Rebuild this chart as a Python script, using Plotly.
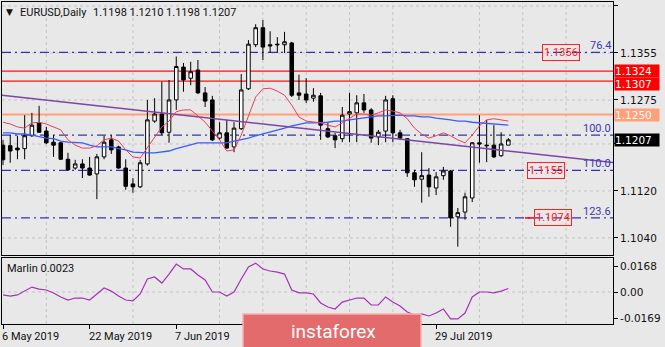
import plotly.graph_objects as go
import pandas as pd

# ---------------- data ----------------
dates = pd.bdate_range("2019-05-06", "2019-08-12")
bar_idx = list(range(len(dates)))

opens = [1.1198, 1.1197, 1.1193, 1.1192, 1.1214, 1.1236, 1.1222, 1.1203, 1.1202, 1.1174,
         1.1159, 1.1166, 1.1159, 1.1149, 1.1178, 1.1207, 1.1195, 1.1159, 1.1132, 1.1127,
         1.1166, 1.1239, 1.1251, 1.1220, 1.1275, 1.1331, 1.1312, 1.1326, 1.1287, 1.1275,
         1.1210, 1.1219, 1.1195, 1.1226, 1.1294, 1.1369, 1.1398, 1.1369, 1.1370, 1.1369,
         1.1372, 1.1287, 1.1285, 1.1278, 1.1282, 1.1226, 1.1214, 1.1209, 1.1251, 1.1253,
         1.1270, 1.1258, 1.1212, 1.1222, 1.1277, 1.1219, 1.1209, 1.1151, 1.1140, 1.1147,
         1.1125, 1.1146, 1.1154, 1.1076, 1.1084, 1.1108, 1.1202, 1.1198, 1.1198, 1.1180,
         1.1198]
highs = [1.1207, 1.1215, 1.1214, 1.1249, 1.1253, 1.1265, 1.1229, 1.1215, 1.1203, 1.1185,
         1.1173, 1.1174, 1.1178, 1.1183, 1.1214, 1.1215, 1.1197, 1.1174, 1.1142, 1.1173,
         1.1275, 1.1278, 1.1306, 1.1309, 1.1349, 1.1338, 1.1340, 1.1343, 1.1297, 1.1282,
         1.1237, 1.1241, 1.1237, 1.1319, 1.1377, 1.1404, 1.1411, 1.1392, 1.1382, 1.1391,
         1.1374, 1.1318, 1.1312, 1.1295, 1.1287, 1.1236, 1.1219, 1.1263, 1.1287, 1.1283,
         1.1285, 1.1261, 1.1224, 1.1282, 1.1283, 1.1224, 1.1210, 1.1156, 1.1186, 1.1159,
         1.1152, 1.1161, 1.1156, 1.1091, 1.1117, 1.1203, 1.1249, 1.1241, 1.1232, 1.1220,
         1.1210]
lows = [1.1164, 1.1168, 1.1174, 1.1174, 1.1212, 1.1219, 1.1200, 1.1178, 1.1173, 1.1154,
        1.1156, 1.1142, 1.1146, 1.1106, 1.1174, 1.1183, 1.1158, 1.1122, 1.1117, 1.1125,
        1.1163, 1.1236, 1.1215, 1.1202, 1.1258, 1.1289, 1.1300, 1.1285, 1.1263, 1.1205,
        1.1207, 1.1192, 1.1186, 1.1224, 1.1292, 1.1365, 1.1343, 1.1355, 1.1355, 1.1355,
        1.1280, 1.1275, 1.1270, 1.1272, 1.1207, 1.1210, 1.1193, 1.1203, 1.1203, 1.1203,
        1.1253, 1.1202, 1.1198, 1.1203, 1.1203, 1.1207, 1.1144, 1.1127, 1.1100, 1.1110,
        1.1113, 1.1139, 1.1059, 1.1025, 1.1071, 1.1101, 1.1168, 1.1169, 1.1176, 1.1178,
        1.1198]
closes = [1.1173, 1.1188, 1.1190, 1.1214, 1.1232, 1.1220, 1.1202, 1.1198, 1.1174, 1.1156,
          1.1166, 1.1159, 1.1147, 1.1178, 1.1203, 1.1190, 1.1159, 1.1128, 1.1127, 1.1168,
          1.1241, 1.1251, 1.1219, 1.1275, 1.1332, 1.1309, 1.1323, 1.1287, 1.1273, 1.1207,
          1.1219, 1.1193, 1.1227, 1.1292, 1.1370, 1.1398, 1.1365, 1.1367, 1.1369, 1.1374,
          1.1283, 1.1283, 1.1275, 1.1283, 1.1232, 1.1212, 1.1207, 1.1249, 1.1255, 1.1270,
          1.1258, 1.1210, 1.1220, 1.1275, 1.1219, 1.1210, 1.1151, 1.1139, 1.1146, 1.1127,
          1.1144, 1.1154, 1.1074, 1.1083, 1.1110, 1.1202, 1.1200, 1.1197, 1.1178, 1.1200,
          1.1207]

ma_fast = [1.1237, 1.1234, 1.1229, 1.1227, 1.1236, 1.1237, 1.1234, 1.1229, 1.1224, 1.1207,
           1.1198, 1.1193, 1.1193, 1.1197, 1.1207, 1.1210, 1.1205, 1.1190, 1.1178, 1.1176,
           1.1193, 1.1210, 1.1229, 1.1239, 1.1255, 1.1258, 1.1258, 1.1248, 1.1237, 1.1222,
           1.1207, 1.1188, 1.1190, 1.1215, 1.1249, 1.1280, 1.1294, 1.1295, 1.1290, 1.1283,
           1.1266, 1.1246, 1.1239, 1.1237, 1.1236, 1.1232, 1.1229, 1.1236, 1.1244, 1.1251,
           1.1251, 1.1249, 1.1253, 1.1258, 1.1256, 1.1253, 1.1243, 1.1227, 1.1217, 1.1210,
           1.1214, 1.1219, 1.1214, 1.1207, 1.1202, 1.1215, 1.1231, 1.1241, 1.1243, 1.1241,
           1.1239]
ma_slow = [1.1219, 1.1219, 1.1217, 1.1217, 1.1215, 1.1212, 1.1210, 1.1209, 1.1205, 1.1203,
           1.1202, 1.1202, 1.1198, 1.1195, 1.1195, 1.1195, 1.1192, 1.1190, 1.1186, 1.1185,
           1.1185, 1.1185, 1.1186, 1.1188, 1.1192, 1.1195, 1.1198, 1.1202, 1.1202, 1.1202,
           1.1202, 1.1202, 1.1205, 1.1207, 1.1210, 1.1214, 1.1217, 1.1220, 1.1224, 1.1227,
           1.1231, 1.1234, 1.1236, 1.1236, 1.1236, 1.1237, 1.1239, 1.1239, 1.1241, 1.1243,
           1.1244, 1.1246, 1.1248, 1.1248, 1.1249, 1.1249, 1.1248, 1.1248, 1.1246, 1.1246,
           1.1244, 1.1243, 1.1241, 1.1239, 1.1239, 1.1237, 1.1236, 1.1236, 1.1234, 1.1234,
           1.1232]
marlin = [-0.0019, -0.0026, -0.0019, 0.0006, 0.0032, 0.0019, 0.0013, -0.0006, -0.0032, -0.0052,
          -0.0039, -0.0039, -0.0052, -0.0013, 0.0026, 0.0006, -0.0026, -0.0052, -0.0058, -0.0013,
          0.0084, 0.0097, 0.0058, 0.0116, 0.0181, 0.0149, 0.0149, 0.0110, 0.0078, 0.0000,
          0.0000, -0.0026, 0.0000, 0.0084, 0.0162, 0.0187, 0.0149, 0.0136, 0.0129, 0.0116,
          0.0013, -0.0006, -0.0006, -0.0013, -0.0071, -0.0097, -0.0110, -0.0065, -0.0052, -0.0039,
          -0.0039, -0.0084, -0.0084, -0.0032, -0.0065, -0.0090, -0.0129, -0.0149, -0.0142, -0.0155,
          -0.0136, -0.0110, -0.0174, -0.0174, -0.0136, -0.0032, 0.0000, 0.0000, -0.0006, 0.0006,
          0.0023]

# trend ray anchor points (bar index, price)
trend_pts_x = [0, 70]
trend_pts_y = [1.1283, 1.1188]

fib_levels = ["76.4", "100.0", "110.0", "123.6"]
fib_prices = [1.1356, 1.1215, 1.1155, 1.1074]

resist_red = [1.1324, 1.1307]
resist_salmon = [1.1250]

box_labels = ["1.1356", "1.1155", "1.1074"]
box_prices = [1.1356, 1.1155, 1.1074]
box_bars = [77.3, 75.2, 76.2]

price_ticks = [1.1040, 1.1120, 1.1200, 1.1275, 1.1355, 1.1435]
price_tick_text = ["1.1040", "1.1120", "", "1.1275", "1.1355", "1.1435"]  # 1.1200 hidden under the bid box
marlin_ticks = [0.0168, 0.0, -0.0169]
marlin_tick_text = ["0.0168", "0.00", "-0.0169"]

date_label_text = ["6 May 2019", "22 May 2019", "7 Jun 2019", "29 Jul 2019"]
date_label_day = ["2019-05-06", "2019-05-22", "2019-06-07", "2019-07-29"]
date_tick_day = ["2019-05-06", "2019-05-22", "2019-06-07", "2019-06-25", "2019-07-11", "2019-07-29"]
grid_bars = [6, 18, 30, 36, 42, 48, 54, 66, 72, 78]

header_ohlc = "1.1198 1.1210 1.1198 1.1207"
marlin_now = "0.0023"

# ---------------- layout constants ----------------
W, H = 665, 347
BG = "#e8e8e8"
XR = [-0.14, 84.5]
YR = [1.10109, 1.14418]
Y2R = [-0.0207, 0.0220]
xdom = [2 / W, 613 / W]
ydom = [1 - 255 / H, 1 - 2 / H]
y2dom = [1 - 324 / H, 1 - 258 / H]

def bar_of(day):
    return int(dates.get_loc(pd.Timestamp(day)))

fig = go.Figure()

# trend ray extended over the visible range
slope = (trend_pts_y[1] - trend_pts_y[0]) / (trend_pts_x[1] - trend_pts_x[0])
tx = [XR[0], XR[1]]
ty = [trend_pts_y[0] + slope * (v - trend_pts_x[0]) for v in tx]

shapes = []
# grid
for g in grid_bars:
    for yr in ("y domain", "y2 domain"):
        shapes.append(dict(type="line", xref="x", yref=yr, x0=g, x1=g, y0=0, y1=1,
                           line=dict(color="#c4c4c4", width=1, dash="3px,3px"), layer="below"))
for p in price_ticks:
    shapes.append(dict(type="line", xref="x domain", yref="y", x0=0, x1=1, y0=p, y1=p,
                       line=dict(color="#c4c4c4", width=1, dash="3px,3px"), layer="below"))
shapes.append(dict(type="line", xref="x2 domain", yref="y2", x0=0, x1=1, y0=0, y1=0,
                   line=dict(color="#c4c4c4", width=1, dash="3px,3px"), layer="below"))
# horizontal levels
for p in resist_red:
    shapes.append(dict(type="line", xref="x domain", yref="y", x0=0, x1=1, y0=p, y1=p,
                       line=dict(color="#ff1010", width=1.3), layer="below"))
for p in resist_salmon:
    shapes.append(dict(type="line", xref="x domain", yref="y", x0=0, x1=1, y0=p, y1=p,
                       line=dict(color="#ffa07a", width=2), layer="below"))
for p in fib_prices:
    shapes.append(dict(type="line", xref="x domain", yref="y", x0=0, x1=1, y0=p, y1=p,
                       line=dict(color="#3434a8", width=1.2, dash="9px,4px,2px,4px"), layer="below"))
# small red arrow stub left of the 1.1074 label
shapes.append(dict(type="line", xref="x", yref="y", x0=box_bars[2] - 3.9, x1=box_bars[2] - 2.5,
                   y0=box_prices[2], y1=box_prices[2], line=dict(color="#ff0000", width=1.5)))
# watermark
shapes.append(dict(type="rect", xref="paper", yref="paper", x0=243 / W, x1=421 / W,
                   y0=-0.02, y1=1 - 314 / H, fillcolor="#e46b6b",
                   line=dict(color="#f3b0b0", width=1.5), layer="above"))

fig.add_trace(go.Scatter(x=tx, y=ty, mode="lines", line=dict(color="#7d45a6", width=1.5),
                         hoverinfo="skip", xaxis="x", yaxis="y"))
fig.add_trace(go.Scatter(x=bar_idx, y=ma_slow, mode="lines", line=dict(color="#3a5cff", width=1.3),
                         hoverinfo="skip", xaxis="x", yaxis="y"))
fig.add_trace(go.Scatter(x=bar_idx, y=ma_fast, mode="lines", line=dict(color="#e8405c", width=1),
                         hoverinfo="skip", xaxis="x", yaxis="y"))
fig.add_trace(go.Candlestick(
    x=bar_idx, open=opens, high=highs, low=lows, close=closes,
    increasing=dict(fillcolor="#ffffff", line=dict(color="#000000", width=1)),
    decreasing=dict(fillcolor="#000000", line=dict(color="#000000", width=1)),
    whiskerwidth=0, xaxis="x", yaxis="y", hoverinfo="skip"))
fig.add_trace(go.Scatter(x=bar_idx, y=marlin, mode="lines", line=dict(color="#a434b4", width=1.2),
                         hoverinfo="skip", xaxis="x2", yaxis="y2"))

ann = []
FT = "Roboto"
# header
ann.append(dict(xref="paper", yref="paper", x=4 / W, y=1 - 12.5 / H, xanchor="left", yanchor="middle",
                text="▼", showarrow=False, font=dict(family="DejaVu Sans", size=9, color="#111111")))
ann.append(dict(xref="paper", yref="paper", x=18 / W, y=1 - 12.5 / H, xanchor="left", yanchor="middle",
                text="EURUSD,Daily", showarrow=False, font=dict(family=FT, size=11, color="#111111")))
ann.append(dict(xref="paper", yref="paper", x=91 / W, y=1 - 12.5 / H, xanchor="left", yanchor="middle",
                text=header_ohlc, showarrow=False, font=dict(family=FT, size=11, color="#111111")))
ann.append(dict(xref="paper", yref="paper", x=5 / W, y=1 - 268 / H, xanchor="left", yanchor="middle",
                text="Marlin " + marlin_now, showarrow=False, font=dict(family=FT, size=11, color="#111111")))
# fib labels
for t, p in zip(fib_levels, fib_prices):
    ann.append(dict(xref="paper", yref="y", x=613 / W, y=p, xanchor="right", yanchor="bottom",
                    text=t, showarrow=False, yshift=-2,
                    font=dict(family=FT, size=11, color="#3a3ab0")))
# boxed price labels
for t, p, b in zip(box_labels, box_prices, box_bars):
    ann.append(dict(xref="x", yref="y", x=b, y=p, xanchor="center", yanchor="middle",
                    text=t, showarrow=False, bordercolor="#ff2020", borderwidth=1, borderpad=1,
                    font=dict(family=FT, size=11, color="#ff2020")))
# right axis highlighted labels
hl = [(resist_red[0], "#ff0000", 0), (resist_red[1], "#ff0000", -3),
      (resist_salmon[0], "#ffa07a", 0), (closes[-1], "#000000", 0)]
for p, c, sh in hl:
    ann.append(dict(xref="paper", yref="y", x=614 / W, y=p, xanchor="left", yanchor="middle",
                    text=f"{p:.4f}", showarrow=False, bgcolor=c, width=44, height=12, align="left",
                    yshift=sh, borderpad=0,
                    font=dict(family="DejaVu Sans", size=10.5, color="#ffffff")))
# date labels
for t, d in zip(date_label_text, date_label_day):
    ann.append(dict(xref="x2", yref="paper", x=bar_of(d), y=1 - 336 / H, xanchor="left", yanchor="middle",
                    text=t, showarrow=False, xshift=-3, font=dict(family=FT, size=11, color="#111111")))
# watermark text
ann.append(dict(xref="paper", yref="paper", x=333 / W, y=1 - 331 / H, xanchor="center", yanchor="middle",
                text="instaforex", showarrow=False, font=dict(family=FT, size=19, color="#ffffff")))

axis_common = dict(showline=True, linecolor="#000000", linewidth=1, mirror=True, zeroline=False,
                   showgrid=False)

fig.update_layout(
    width=W, height=H, margin=dict(l=0, r=0, t=0, b=0),
    paper_bgcolor=BG, plot_bgcolor=BG, showlegend=False,
    shapes=shapes, annotations=ann,
    xaxis=dict(domain=xdom, range=XR, anchor="y", showticklabels=False, ticks="",
               rangeslider=dict(visible=False), **axis_common),
    yaxis=dict(domain=ydom, range=YR, anchor="x", side="right", tickvals=price_ticks,
               ticktext=price_tick_text, ticks="outside", ticklen=4,
               tickcolor="#000000", tickfont=dict(family="DejaVu Sans", size=10.5, color="#111111"),
               **axis_common),
    xaxis2=dict(domain=xdom, range=XR, anchor="y2", matches="x", showticklabels=False,
                tickvals=[bar_of(d) for d in date_tick_day], ticks="outside", ticklen=4,
                tickcolor="#000000", **axis_common),
    yaxis2=dict(domain=y2dom, range=Y2R, anchor="x2", side="right", tickvals=marlin_ticks,
                ticktext=marlin_tick_text, ticks="outside", ticklen=4, tickcolor="#000000",
                tickfont=dict(family="DejaVu Sans", size=10.5, color="#111111"), **axis_common),
)

fig.write_html("out.html")
